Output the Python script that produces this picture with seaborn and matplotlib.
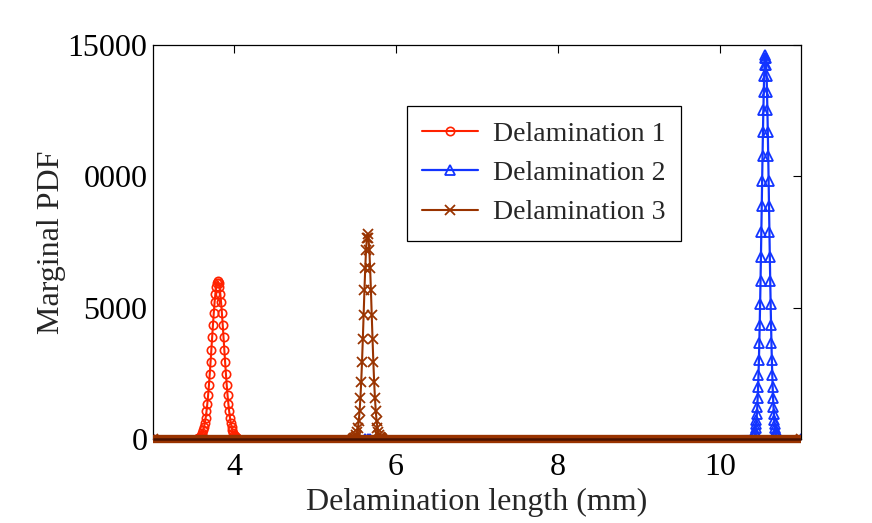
import numpy as np
import pandas as pd
import seaborn as sns
import matplotlib
matplotlib.use("Agg")
import matplotlib.pyplot as plt

# ----- data -----
x_d1 = [3.0,
        3.56, 3.57, 3.58, 3.59, 3.60, 3.61, 3.62, 3.63, 3.64, 3.65, 3.66, 3.67, 3.68,
        3.69, 3.70, 3.71, 3.72, 3.73, 3.74, 3.75, 3.76, 3.77, 3.78, 3.79, 3.80,
        3.81, 3.82, 3.83, 3.84, 3.85, 3.86, 3.87, 3.88, 3.89, 3.90, 3.91, 3.92,
        3.93, 3.94, 3.95, 3.96, 3.97, 3.98, 3.99, 4.00, 4.01, 4.02, 4.03, 4.04,
        11.0]
y_d1 = [0,
        36, 54, 81, 119, 171, 242, 337, 460, 616, 812, 1051, 1336, 1668,
        2045, 2467, 2921, 3396, 3881, 4357, 4804, 5205, 5539, 5790, 5947, 6000,
        5947, 5790, 5539, 5205, 4804, 4357, 3881, 3396, 2921, 2467, 2045, 1668,
        1336, 1051, 812, 616, 460, 337, 242, 171, 119, 81, 54, 36,
        0]

x_d2 = [3.0, 5.62, 5.65, 5.68,
        10.420, 10.425, 10.430, 10.435, 10.440, 10.445, 10.450, 10.455, 10.460, 10.465,
        10.470, 10.475, 10.480, 10.485, 10.490, 10.495, 10.500, 10.505, 10.510, 10.515,
        10.520, 10.525, 10.530, 10.535, 10.540, 10.545, 10.550, 10.555, 10.560,
        10.565, 10.570, 10.575, 10.580, 10.585, 10.590, 10.595, 10.600, 10.605,
        10.610, 10.615, 10.620, 10.625, 10.630, 10.635, 10.640, 10.645, 10.650,
        10.655, 10.660, 10.665, 10.670, 10.675, 10.680, 10.685, 10.690, 10.695, 10.700,
        11.0]
y_d2 = [0, 0, 0, 0,
        115, 162, 225, 308, 417, 558, 735, 960, 1236, 1573,
        1976, 2450, 3008, 3641, 4355, 5145, 6003, 6916, 7875, 8855,
        9836, 10790, 11690, 12513, 13227, 13810, 14244, 14510, 14600,
        14510, 14244, 13810, 13227, 12513, 11690, 10790, 9836, 8855,
        7875, 6916, 6003, 5145, 4355, 3641, 3008, 2450, 1976,
        1573, 1236, 960, 735, 558, 417, 308, 225, 162, 115,
        0]

x_d3 = [3.0, 5.47, 5.48, 5.49, 5.50, 5.51, 5.52, 5.53, 5.54, 5.55, 5.56, 5.57, 5.58,
        5.59, 5.60, 5.61, 5.62, 5.63, 5.64, 5.65, 5.66, 5.67, 5.68, 5.69, 5.70, 5.71,
        5.72, 5.73, 5.74, 5.75, 5.76, 5.77, 5.78, 5.79, 5.80, 5.81, 5.82, 5.83, 11.0]
y_d3 = [0, 12, 24, 47, 87, 155, 266, 438, 693, 1056, 1543, 2170, 2928,
        3797, 4731, 5665, 6515, 7200, 7645, 7800, 7645, 7200, 6515, 5665, 4731, 3797,
        2928, 2170, 1543, 1056, 693, 438, 266, 155, 87, 47, 24, 12, 0]

labels = ["Delamination 1", "Delamination 2", "Delamination 3"]
ytick_vals = [0, 5000, 10000, 15000]
ytick_labels = ["0", "5000", "0000", "15000"]
xtick_vals = [4, 6, 8, 10]

# ----- figure config -----
sns.set_style("white")
plt.rcParams["font.family"] = ["Liberation Serif", "DejaVu Serif"]

fig, ax = plt.subplots(figsize=(8.72, 5.23), dpi=100)
fig.subplots_adjust(left=0.1755, right=0.9186, top=0.914, bottom=0.1606)

red = "#ff2200"
blue = "#1234ff"
brown = "#993300"

sns.lineplot(x=x_d1, y=y_d1, ax=ax, color=red, marker="o", mfc="none", mec=red,
             mew=1.2, ms=6, lw=1.5, label=labels[0], sort=False)
sns.lineplot(x=x_d2, y=y_d2, ax=ax, color=blue, marker="^", mfc="none", mec=blue,
             mew=1.3, ms=6.5, lw=1.6, label=labels[1], sort=False)
sns.lineplot(x=x_d3, y=y_d3, ax=ax, color=brown, marker="x", mec=brown,
             mew=1.3, ms=7, lw=1.5, label=labels[2], sort=False)

# dense baseline markers look like a thick band
ax.axhline(0, color=brown, lw=6, zorder=5, clip_on=False, solid_capstyle="butt")
ax.axhline(0, color="#4a1200", lw=1.8, zorder=6, clip_on=False, solid_capstyle="butt")

ax.set_xlim(3, 11)
ax.set_ylim(0, 15000)
ax.set_xticks(xtick_vals)
ax.set_xticklabels([str(v) for v in xtick_vals])
ax.set_yticks(ytick_vals)
ax.set_yticklabels(ytick_labels)
ax.tick_params(direction="in", length=6, width=0.8, top=True, right=True,
               labelsize=23, colors="black")
ax.tick_params(axis="x", pad=10)
ax.tick_params(axis="y", pad=4)
for s in ax.spines.values():
    s.set_color("black")
    s.set_linewidth(0.9)

ax.set_xlabel("Delamination length (mm)", fontsize=23, labelpad=4)
ax.set_ylabel("Marginal PDF", fontsize=23, labelpad=1)

leg = ax.legend(loc="upper left", bbox_to_anchor=(0.392, 0.845), borderaxespad=0,
                fontsize=20, frameon=True, fancybox=False, edgecolor="black",
                framealpha=1, handlelength=2.0, handletextpad=0.55,
                borderpad=0.55, labelspacing=0.5)
leg.get_frame().set_linewidth(0.9)

plt.savefig("out.png", dpi=100)
